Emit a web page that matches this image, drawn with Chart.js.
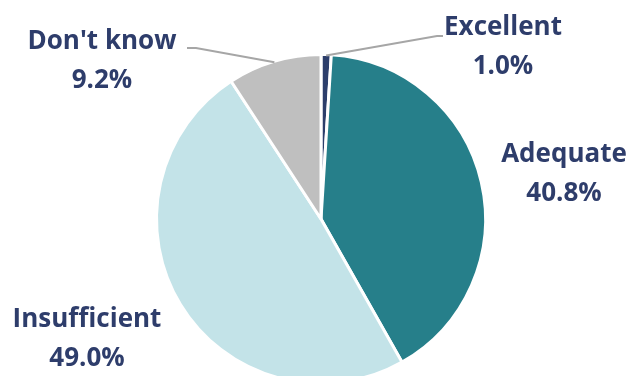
<!DOCTYPE html>
<html>
<head>
<meta charset="utf-8">
<script src="https://cdn.jsdelivr.net/npm/chart.js@4/dist/chart.umd.min.js"></script>
<style>
    html, body { margin: 0; padding: 0; background: #fff; overflow: hidden; }
    #wrap { width: 631px; height: 400px; }
</style>
</head>
<body>
<div id="wrap"><canvas id="chart" width="631" height="400"></canvas></div>
<script>
let categories = ["Excellent", "Adequate", "Insufficient", "Don't know"];
let shares = [1.0, 40.8, 49.0, 9.2];
let colors = ["#2c3e6b", "#267f8a", "#c3e3e8", "#bfbfbf"];

// label block: centre x, baseline of the name, and the bend of its leader line
let labelSpots = [
    { x: 503, y: 35, leader: [[437, 36], [443, 36]] },
    { x: 564, y: 162, leader: null },
    { x: 87, y: 327, leader: null },
    { x: 102, y: 49, leader: [[196, 48], [187, 48]] },
];

const pieLabels = {
    id: "pieLabels",
    afterDraw(chart) {
        let ctx = chart.ctx;
        let arcs = chart.getDatasetMeta(0).data;

        ctx.save();
        arcs.forEach((arc, i) => {
            let spot = labelSpots[i];

            if (spot.leader) {
                let mid = (arc.startAngle + arc.endAngle) / 2;
                let sx = arc.x + Math.cos(mid) * (arc.outerRadius - 1);
                let sy = arc.y + Math.sin(mid) * (arc.outerRadius - 1);

                ctx.strokeStyle = "#a6a6a6";
                ctx.lineWidth = 2;
                ctx.beginPath();
                ctx.moveTo(sx, sy);
                spot.leader.forEach((p) => ctx.lineTo(p[0], p[1]));
                ctx.stroke();
            }

            ctx.fillStyle = "#2e3d6b";
            ctx.font = "bold 26px 'Open Sans'";
            ctx.textAlign = "center";
            ctx.textBaseline = "alphabetic";
            ctx.fillText(categories[i], spot.x, spot.y);
            ctx.fillText(shares[i].toFixed(1) + "%", spot.x, spot.y + 39);
        });
        ctx.restore();
    },
};

let chart = new Chart(document.getElementById("chart"), {
    type: "pie",
    data: {
        labels: categories,
        datasets: [
            {
                data: shares,
                backgroundColor: colors,
                borderColor: "#ffffff",
                borderWidth: 3,
            },
        ],
    },
    options: {
        responsive: false,
        devicePixelRatio: 1,
        animation: false,
        layout: {
            padding: { left: 155, right: 144, top: 53, bottom: 15 },
        },
        plugins: {
            legend: { display: false },
            tooltip: { enabled: false },
        },
    },
    plugins: [pieLabels],
});
</script>
</body>
</html>
